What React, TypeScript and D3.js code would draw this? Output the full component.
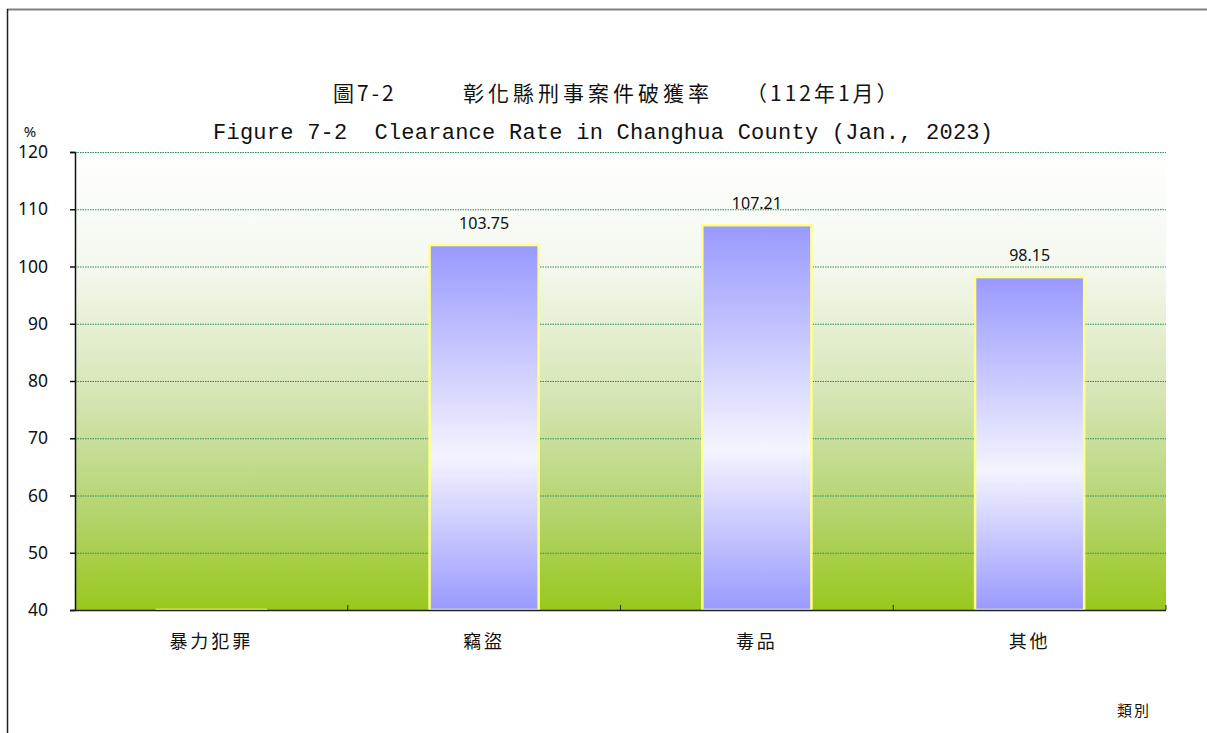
import React, { useEffect, useRef } from "react";
import * as d3 from "d3";

const categories = ["暴力犯罪", "竊盜", "毒品", "其他"];
const rates: (number | null)[] = [null, 103.75, 107.21, 98.15];
const yTicks = [40, 50, 60, 70, 80, 90, 100, 110, 120];

const titleZhParts = ["圖7-2", "彰化縣刑事案件破獲率", "（112年1月）"];
const titleEn = "Figure 7-2  Clearance Rate in Changhua County (Jan., 2023)";

const App = () => {
  const svgRef = useRef<SVGSVGElement>(null);

  useEffect(() => {
    const svg = d3.select(svgRef.current);
    svg.selectAll("*").remove();

    const width = 1207;
    const height = 733;
    const left = 75;
    const right = 1166;
    const top = 152;
    const bottom = 610;

    const x = d3.scaleBand().domain(categories).range([left, right]).paddingInner(0.6).paddingOuter(0.3);
    const xb = d3.scaleBand().domain(categories).range([left, right]);
    const y = d3.scaleLinear().domain([40, 120]).range([bottom, top]);

    svg.attr("width", width).attr("height", height);

    const defs = svg.append("defs");
    const bg = defs.append("linearGradient").attr("id", "bg").attr("x1", 0).attr("y1", 0).attr("x2", 0).attr("y2", 1);
    [
      ["0%", "#ffffff"],
      ["25%", "#f4f8ee"],
      ["55%", "#d3e4b0"],
      ["80%", "#b2d36a"],
      ["100%", "#98c81c"],
    ].forEach(([o, c]) => bg.append("stop").attr("offset", o).attr("stop-color", c));

    const barG = defs.append("linearGradient").attr("id", "bar").attr("x1", 0).attr("y1", 0).attr("x2", 0).attr("y2", 1);
    [
      ["0%", "#9999ff"],
      ["58%", "#f4f4ff"],
      ["100%", "#9999ff"],
    ].forEach(([o, c]) => barG.append("stop").attr("offset", o).attr("stop-color", c));

    // frame
    svg.append("line").attr("x1", 7).attr("x2", width).attr("y1", 9.5).attr("y2", 9.5).attr("stroke", "#808080").attr("stroke-width", 2);
    svg.append("line").attr("x1", 7.5).attr("x2", 7.5).attr("y1", 9).attr("y2", height).attr("stroke", "#222").attr("stroke-width", 1.5);

    // titles
    const zhX = [333, 463, 746];
    svg.append("g").selectAll("text").data(titleZhParts).enter().append("text")
      .attr("x", (d, i) => zhX[i]).attr("y", 101)
      .attr("font-family", "'Noto Sans CJK TC', serif").attr("font-size", 21).attr("fill", "#111")
      .attr("letter-spacing", (d, i) => (i === 1 ? 4 : 3))
      .text((d) => d);
    svg.append("text").attr("x", 213).attr("y", 139)
      .style("white-space", "pre")
      .attr("font-family", "'Liberation Mono', monospace").attr("font-size", 22).attr("fill", "#111")
      .attr("textLength", 780).attr("lengthAdjust", "spacing").text(titleEn);

    svg.append("text").attr("x", 30).attr("y", 137).attr("text-anchor", "middle")
      .attr("font-family", "'Noto Sans', sans-serif").attr("font-size", 15).attr("fill", "#111").text("%");

    // plot background
    svg.append("rect").attr("x", left).attr("y", top).attr("width", right - left).attr("height", bottom - top).attr("fill", "url(#bg)");

    // gridlines
    svg.append("g").selectAll("line").data(yTicks.filter((t) => t > 40)).enter().append("line")
      .attr("x1", left).attr("x2", right).attr("y1", (d) => y(d) + 0.5).attr("y2", (d) => y(d) + 0.5)
      .attr("stroke", "#2e8b57").attr("stroke-width", 1).attr("stroke-dasharray", "1.5,1");

    // bars
    svg.append("g").selectAll("rect").data(categories).enter().append("rect")
      .attr("x", (d) => x(d)!)
      .attr("width", x.bandwidth())
      .attr("y", (d, i) => y(Math.max(40, rates[i] ?? 40)))
      .attr("height", (d, i) => Math.max(0.5, bottom - y(Math.max(40, rates[i] ?? 40))))
      .attr("fill", "url(#bar)")
      .attr("stroke", "#ffff8c")
      .attr("stroke-width", 2.5);

    // value labels
    svg.append("g").selectAll("text").data(categories.filter((d, i) => rates[i] !== null)).enter().append("text")
      .attr("x", (d) => x(d)! + x.bandwidth() / 2)
      .attr("y", (d) => y(rates[categories.indexOf(d)]!) - 16)
      .attr("text-anchor", "middle")
      .attr("font-family", "'Noto Sans', sans-serif").attr("font-size", 16).attr("fill", "#111")
      .text((d) => rates[categories.indexOf(d)]!.toFixed(2));

    // y axis
    const yAxis = svg.append("g").attr("transform", `translate(${left},0)`)
      .call(d3.axisLeft(y).tickValues(yTicks).tickSize(5).tickPadding(22));
    yAxis.select(".domain").attr("stroke", "#111").attr("stroke-width", 1.5);
    yAxis.selectAll("line").attr("stroke", "#111").attr("stroke-width", 1.5);
    yAxis.selectAll("text").attr("font-family", "'Noto Sans', sans-serif").attr("font-size", 17.5).attr("fill", "#111");

    // x axis
    svg.append("line").attr("x1", left).attr("x2", right).attr("y1", bottom + 0.5).attr("y2", bottom + 0.5)
      .attr("stroke", "#222").attr("stroke-width", 1.5);
    svg.append("g").selectAll("line").data(categories.slice(1).concat(["end"])).enter().append("line")
      .attr("x1", (d) => (d === "end" ? right : xb(d)!))
      .attr("x2", (d) => (d === "end" ? right : xb(d)!))
      .attr("y1", bottom - 5).attr("y2", bottom)
      .attr("stroke", "#222").attr("stroke-width", 1);

    svg.append("g").selectAll("text").data(categories).enter().append("text")
      .attr("x", (d) => xb(d)! + xb.bandwidth() / 2)
      .attr("y", 648)
      .attr("text-anchor", "middle")
      .attr("font-family", "'Noto Sans CJK TC', serif").attr("font-size", 18).attr("fill", "#111")
      .attr("letter-spacing", 3)
      .text((d) => d);

    svg.append("text").attr("x", 1134).attr("y", 716).attr("text-anchor", "middle")
      .attr("font-family", "'Noto Sans CJK TC', serif").attr("font-size", 15).attr("fill", "#111")
      .attr("letter-spacing", 2).text("類別");
  }, []);

  return (
    <div style={{ position: "absolute", left: 0, top: 0, width: 1207, height: 733, background: "#fff" }}>
      <svg ref={svgRef}></svg>
    </div>
  );
};

export default App;
